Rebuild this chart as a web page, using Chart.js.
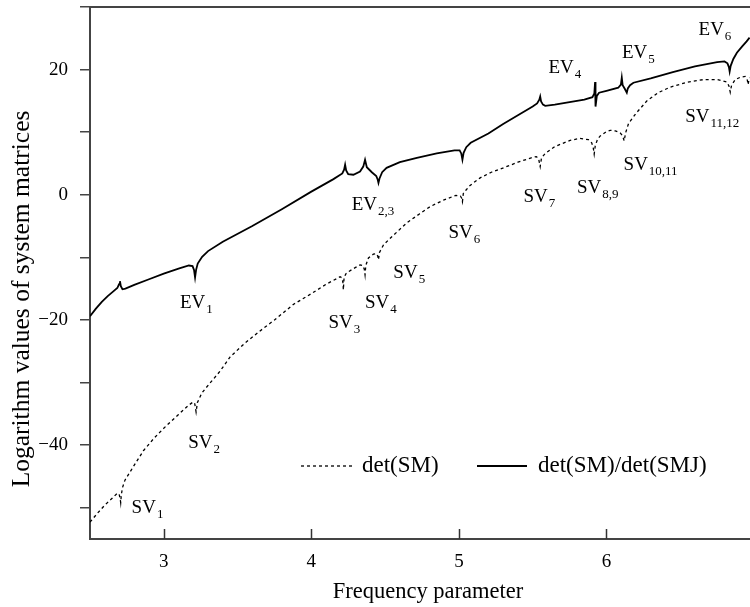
<!DOCTYPE html>
<html>
<head>
<meta charset="utf-8">
<script src="https://cdn.jsdelivr.net/npm/chart.js@4.4.1/dist/chart.umd.min.js"></script>
<style>
  html, body { margin: 0; padding: 0; background: #fff; overflow: hidden; }
  #wrap { width: 760px; height: 607px; }
</style>
</head>
<body>
<div id="wrap"><canvas id="detChart" width="760" height="607"></canvas></div>
<script>
// det(SM): frequency parameter and log value
var smFreq = [2.50, 2.55, 2.60, 2.65, 2.685, 2.697, 2.704, 2.708, 2.712, 2.72, 2.737, 2.80, 2.862, 2.93,
  3.00, 3.10, 3.17, 3.20, 3.21, 3.219, 3.228, 3.257, 3.32, 3.381, 3.45, 3.55, 3.65, 3.75, 3.88,
  4.00, 4.10, 4.195, 4.208, 4.214, 4.217, 4.222, 4.235, 4.251, 4.30, 4.331, 4.35, 4.359, 4.364, 4.369,
  4.387, 4.42, 4.44, 4.45, 4.455, 4.462, 4.489, 4.55, 4.647, 4.73, 4.805, 4.90, 4.98, 5.01, 5.018,
  5.024, 5.03, 5.05, 5.076, 5.144, 5.22, 5.302, 5.40, 5.49, 5.525, 5.54, 5.551, 5.56, 5.585, 5.65,
  5.754, 5.82, 5.878, 5.90, 5.91, 5.917, 5.924, 5.94, 5.958, 6.00, 6.025, 6.06, 6.093, 6.11, 6.12,
  6.13, 6.15, 6.20, 6.274, 6.35, 6.432, 6.55, 6.658, 6.75, 6.817, 6.83, 6.839, 6.848, 6.873, 6.91,
  6.94, 6.955, 6.96, 6.966, 6.97];
var smLog = [-52.3, -50.9, -49.6, -48.5, -47.7, -47.8, -48.5, -49.2, -48.0, -46.8, -45.6, -43.2, -40.9, -39.0,
  -37.3, -35.1, -33.6, -33.1, -33.4, -34.7, -33.2, -31.7, -29.9, -28.2, -25.9, -23.7, -21.8, -20.0, -17.5,
  -15.8, -14.3, -13.1, -13.3, -14.0, -15.2, -13.2, -12.6, -12.3, -11.6, -11.2, -11.3, -11.9, -12.8, -11.3,
  -10.1, -9.5, -9.4, -9.8, -10.4, -9.2, -8.0, -6.6, -4.5, -3.1, -1.9, -0.8, -0.1, -0.2, -0.5,
  -1.1, 0.2, 0.8, 1.5, 2.7, 3.6, 4.3, 5.2, 5.9, 6.1, 5.8, 4.5, 5.9, 6.6, 7.7,
  8.7, 9.0, 8.8, 8.3, 7.6, 6.5, 7.8, 8.9, 9.4, 10.1, 10.3, 10.2, 9.9, 9.4, 8.6,
  9.9, 11.4, 13.0, 15.0, 16.3, 17.2, 18.0, 18.4, 18.4, 18.0, 17.4, 16.4, 17.5, 18.4, 18.8,
  18.9, 18.3, 17.6, 18.4, 18.7];

// det(SM)/det(SMJ): frequency parameter and log value
var ratioFreq = [2.50, 2.54, 2.58, 2.62, 2.66, 2.685, 2.697, 2.703, 2.709, 2.72, 2.74, 2.80, 2.90,
  3.00, 3.10, 3.17, 3.195, 3.205, 3.212, 3.219, 3.23, 3.26, 3.30, 3.40, 3.60, 3.80,
  4.00, 4.15, 4.21, 4.222, 4.229, 4.236, 4.25, 4.285, 4.33, 4.352, 4.364, 4.376, 4.41, 4.44, 4.45,
  4.455, 4.462, 4.48, 4.51, 4.60, 4.715, 4.85, 4.97, 5.005, 5.016, 5.024, 5.032, 5.05, 5.08,
  5.20, 5.30, 5.40, 5.50, 5.53, 5.545, 5.551, 5.557, 5.57, 5.585, 5.65, 5.75, 5.85, 5.905, 5.918,
  5.923, 5.926, 5.935, 5.95, 6.00, 6.08, 6.098, 6.104, 6.11, 6.125, 6.138, 6.145, 6.16, 6.183,
  6.30, 6.45, 6.60, 6.75, 6.80, 6.82, 6.83, 6.835, 6.842, 6.86, 6.884, 6.92, 6.95, 6.97];
var ratioLog = [-19.4, -18.2, -17.1, -16.2, -15.4, -14.9, -14.3, -13.8, -14.6, -15.1, -15.0, -14.4, -13.5,
  -12.6, -11.8, -11.3, -11.4, -12.0, -13.2, -12.0, -11.0, -9.9, -9.0, -7.5, -5.0, -2.3,
  0.5, 2.5, 3.4, 4.0, 4.8, 3.9, 3.3, 3.2, 3.7, 4.5, 5.6, 4.4, 3.6, 3.0, 2.4,
  1.9, 2.6, 3.6, 4.3, 5.2, 5.9, 6.6, 7.1, 7.1, 6.6, 5.6, 6.7, 7.6, 8.3,
  9.8, 11.3, 12.7, 14.1, 14.6, 15.2, 15.7, 14.9, 14.4, 14.2, 14.4, 14.8, 15.2, 15.6, 16.2,
  18.0, 14.1, 15.8, 16.3, 16.6, 17.1, 17.6, 18.7, 17.5, 16.9, 16.3, 17.0, 17.5, 17.9,
  18.6, 19.6, 20.5, 21.2, 21.3, 21.0, 20.4, 19.7, 20.6, 21.7, 22.7, 23.7, 24.5, 25.1];

// labelled y ticks (minor ticks every 10 carry no text)
var yLabelValues = [-40, -20, 0, 20];

// mode labels: name, subscript, frequency, log value of the text baseline
var modeNames = ['SV', 'SV', 'SV', 'SV', 'SV', 'SV', 'SV', 'SV', 'SV', 'SV',
  'EV', 'EV', 'EV', 'EV', 'EV'];
var modeSubs = ['1', '2', '3', '4', '5', '6', '7', '8,9', '10,11', '11,12',
  '1', '2,3', '4', '5', '6'];
var modeFreq = [2.782, 3.166, 4.116, 4.364, 4.556, 4.929, 5.438, 5.80, 6.116, 6.534,
  3.11, 4.274, 5.607, 6.105, 6.624];
var modeLog = [-50.9, -40.5, -21.3, -18.1, -13.3, -6.9, -1.1, 0.3, 4.0, 11.7,
  -18.1, -2.4, 19.5, 21.9, 25.6];

var serif = "'Liberation Serif', 'Times New Roman', serif";

function pairs(fs, vs) {
  return fs.map(function (f, i) { return { x: f, y: vs[i] }; });
}

function minus(v) {
  return v < 0 ? '\u2212' + Math.abs(v) : String(v);
}

// titles, inner x ticks, mode labels and the in-plot legend
var paperDecor = {
  id: 'paperDecor',
  afterDraw: function (chart) {
    var ctx = chart.ctx;
    var area = chart.chartArea;
    var xs = chart.scales.x;
    var ys = chart.scales.y;
    ctx.save();

    // x ticks point into the plot
    ctx.strokeStyle = '#333';
    ctx.lineWidth = 1.5;
    xs.ticks.forEach(function (t) {
      var px = Math.round(xs.getPixelForValue(t.value)) + 0.5;
      ctx.beginPath();
      ctx.moveTo(px, area.bottom);
      ctx.lineTo(px, area.bottom - 10);
      ctx.stroke();
    });

    ctx.fillStyle = '#000';

    // axis titles
    ctx.font = '22.5px ' + serif;
    ctx.textAlign = 'center';
    ctx.textBaseline = 'middle';
    ctx.fillText('Frequency parameter', (area.left + area.right) / 2 + 6, 592);
    ctx.save();
    ctx.translate(22, 299);
    ctx.rotate(-Math.PI / 2);
    ctx.font = '25.5px ' + serif;
    ctx.fillText('Logarithm values of system matrices', 0, 0);
    ctx.restore();

    // mode labels with subscripts
    ctx.textAlign = 'left';
    ctx.textBaseline = 'alphabetic';
    modeNames.forEach(function (name, i) {
      var px = xs.getPixelForValue(modeFreq[i]);
      var py = ys.getPixelForValue(modeLog[i]);
      ctx.font = '19px ' + serif;
      ctx.fillText(name, px, py);
      var w = ctx.measureText(name).width;
      ctx.font = '13px ' + serif;
      ctx.fillText(modeSubs[i], px + w + 1, py + 5);
    });

    // legend
    ctx.font = '23px ' + serif;
    ctx.textBaseline = 'middle';
    var rows = [{ ds: 0, x0: 301, x1: 352, tx: 362 }, { ds: 1, x0: 477, x1: 527, tx: 538 }];
    rows.forEach(function (r) {
      var ds = chart.data.datasets[r.ds];
      ctx.beginPath();
      ctx.setLineDash(ds.borderDash || []);
      ctx.lineWidth = ds.borderWidth;
      ctx.strokeStyle = ds.borderColor;
      ctx.moveTo(r.x0, 466);
      ctx.lineTo(r.x1, 466);
      ctx.stroke();
      ctx.setLineDash([]);
      ctx.fillText(ds.label, r.tx, 466);
    });

    ctx.restore();
  }
};

var ctx = document.getElementById('detChart').getContext('2d');

var myChart = new Chart(ctx, {
  type: 'line',
  data: {
    datasets: [
      {
        label: 'det(SM)',
        data: pairs(smFreq, smLog),
        borderColor: '#000',
        borderWidth: 1.3,
        borderDash: [3, 3],
        pointRadius: 0,
        tension: 0,
        fill: false
      },
      {
        label: 'det(SM)/det(SMJ)',
        data: pairs(ratioFreq, ratioLog),
        borderColor: '#000',
        borderWidth: 1.8,
        pointRadius: 0,
        tension: 0,
        fill: false
      }
    ]
  },
  options: {
    responsive: false,
    animation: false,
    devicePixelRatio: 1,
    layout: { padding: { top: 7, right: 6, left: 0, bottom: 0 } },
    plugins: {
      legend: { display: false },
      tooltip: { enabled: false }
    },
    scales: {
      x: {
        type: 'linear',
        position: 'bottom',
        min: 2.5,
        max: 7,
        ticks: {
          stepSize: 1,
          includeBounds: false,
          maxRotation: 0,
          color: '#000',
          padding: 12,
          font: { family: serif, size: 19 }
        },
        grid: { drawOnChartArea: false, drawTicks: false },
        border: { color: '#444', width: 2 },
        afterFit: function (scale) {
          scale.height = 68;
          scale.paddingLeft = 0;
          scale.paddingRight = 0;
        }
      },
      xTop: {
        type: 'linear',
        position: 'top',
        min: 2.5,
        max: 7,
        ticks: { display: false },
        grid: { drawOnChartArea: false, drawTicks: false },
        border: { color: '#444', width: 2 },
        afterFit: function (scale) {
          scale.height = 0;
          scale.paddingLeft = 0;
          scale.paddingRight = 0;
        }
      },
      y: {
        min: -55,
        max: 30,
        ticks: {
          stepSize: 10,
          includeBounds: false,
          color: '#000',
          padding: 12,
          font: { family: serif, size: 19 },
          callback: function (v) {
            return yLabelValues.indexOf(v) >= 0 ? minus(v) : '';
          }
        },
        grid: { drawOnChartArea: false, drawTicks: true, tickLength: 10, color: '#444', lineWidth: 1.5 },
        border: { color: '#444', width: 2 },
        afterFit: function (scale) {
          scale.width = 90;
          scale.paddingTop = 0;
          scale.paddingBottom = 0;
        }
      }
    }
  },
  plugins: [paperDecor]
});
</script>
</body>
</html>
